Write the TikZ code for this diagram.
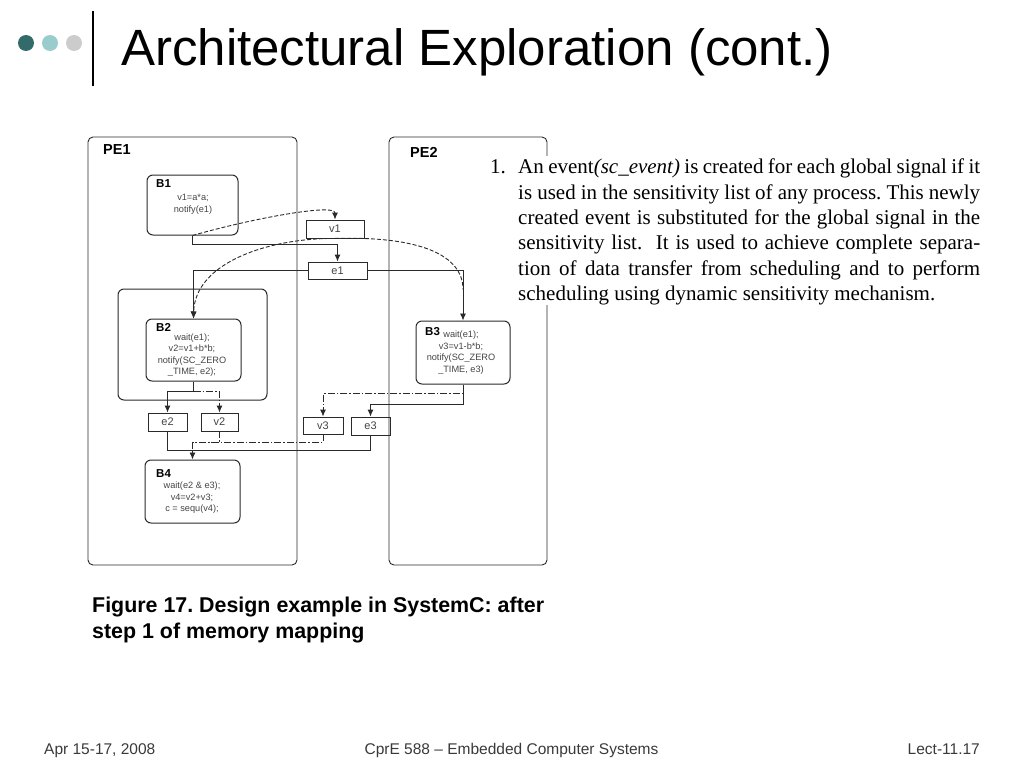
\documentclass[tikz,border=0pt]{standalone}
\usepackage{fontspec}
\setmainfont{Liberation Sans}
\newfontfamily\paperfont{Liberation Serif}
\usetikzlibrary{positioning, arrows.meta, calc}
\definecolor{dotdark}{HTML}{336B6B}
\definecolor{dotlight}{HTML}{99CCCC}
\definecolor{dotgray}{HTML}{CCCCCC}
\definecolor{ink}{HTML}{2A2A2A}
\definecolor{codegray}{HTML}{444444}
\definecolor{footgray}{HTML}{3A3A3A}
\tikzset{
  pe/.style    ={draw=ink, rounded corners=5pt, line width=0.9pt},
  blk/.style   ={draw=ink, rounded corners=6pt, line width=1pt},
  sigbox/.style={draw=ink, line width=0.9pt, inner sep=0pt, text=codegray,
                 font=\fontsize{11}{13}\selectfont},
  pename/.style={anchor=west, inner sep=0pt, font=\bfseries\fontsize{14.5}{16}\selectfont},
  bname/.style ={anchor=west, inner sep=0pt, font=\bfseries\fontsize{11.5}{13}\selectfont},
  code/.style  ={align=center, inner sep=0pt, text=codegray,
                 font=\fontsize{9.2}{11.5}\selectfont},
  dot/.style   ={circle, inner sep=0pt, minimum size=16pt},
  wire/.style  ={draw=ink, line width=0.9pt},
  sig/.style   ={wire, -{Latex[length=7pt,width=6pt]}},
  dwire/.style ={wire, dash pattern=on 7pt off 2pt on 1.5pt off 2pt},
  dsig/.style  ={dwire, -{Latex[length=7pt,width=6pt]}},
  curvy/.style ={wire, dash pattern=on 4pt off 2pt},
  paper/.style ={inner sep=0pt, font=\paperfont\fontsize{21}{25.3}\selectfont},
}

\begin{document}
\begin{tikzpicture}[x=1pt, y=-1pt]
  \useasboundingbox (0,0) rectangle (1024,768);

  % slide header
  \node[dot, fill=dotdark]  (d1) at (26,43) {};
  \node[dot, fill=dotlight] (d2) at (50,43) {};
  \node[dot, fill=dotgray]  (d3) at (74,43) {};
  \draw[line width=2.5pt] (93,11) -- (93,86);
  \node[anchor=base west, inner sep=0pt, font=\fontsize{51}{57}\selectfont]
    (title) at (121,66) {Architectural Exploration (cont.)};

  % processing elements
  \node[pe, minimum width=209pt, minimum height=428pt] (pe1) at (192.5,351) {};
  \node[pe, minimum width=158pt, minimum height=428pt] (pe2) at (468,351) {};
  \node[pename] (pe1n) at (103,150) {PE1};
  \node[pename] (pe2n) at (410,152) {PE2};

  % blocks
  \node[blk, minimum width=91pt, minimum height=60pt] (b1) at (192.5,205) {};
  \node[bname] (b1n) at (156,184) {B1};
  \node[code]  (b1c) at (193,204.5) {v1=a*a;\\notify(e1)};

  \node[blk, minimum width=149pt, minimum height=111pt] (b2o) at (192.5,344.5) {};
  \node[blk, minimum width=95pt, minimum height=62pt] (b2) at (193.5,350) {};
  \node[bname] (b2n) at (156,327) {B2};
  \node[code]  (b2c) at (192,355) {wait(e1);\\v2=v1+b*b;\\notify(SC\_ZERO\\\_TIME, e2);};

  \node[blk, minimum width=94pt, minimum height=63pt] (b3) at (463,352.5) {};
  \node[bname] (b3n) at (425,332) {B3};
  \node[code]  (b3c) at (461,352.5) {wait(e1);\\v3=v1-b*b;\\notify(SC\_ZERO\\\_TIME, e3)};

  \node[blk, minimum width=95pt, minimum height=63pt] (b4) at (192.5,491.5) {};
  \node[bname] (b4n) at (156,474) {B4};
  \node[code]  (b4c) at (192,498) {wait(e2 \& e3);\\v4=v2+v3;\\c = sequ(v4);};

  % signals and events
  \node[sigbox, minimum width=58pt, minimum height=18pt] (v1) at (335,229) {v1};
  \node[sigbox, minimum width=59pt, minimum height=17pt] (e1) at (337.5,270.5) {e1};
  \node[sigbox, minimum width=39pt, minimum height=18pt] (e2) at (167.5,422) {e2};
  \node[sigbox, minimum width=37pt, minimum height=18pt] (v2) at (219.5,422) {v2};
  \node[sigbox, minimum width=40pt, minimum height=17pt] (v3) at (323,425.5) {v3};
  \node[sigbox, minimum width=39pt, minimum height=18pt] (e3) at (370.5,426) {e3};

  % connections
  \draw[curvy, -{Latex[length=7pt,width=6pt]}] (b1.south) .. controls (250,219) and (335,203) .. (v1.north);
  \draw[sig] (b1.south) -- ++(0,-9pt) -| (e1.north);
  \draw[sig] (e1.west) -| (b2.north);
  \draw[sig] (e1.east) -| (b3.north);
  \coordinate (b3in) at ([yshift=31pt]b3.north);
  \draw[curvy, -{Latex[length=7pt,width=6pt]}] (v1.south) .. controls (270,238) and (195,262) .. (b2.north);
  \draw[curvy] (v1.south) .. controls (420,236) and (463,255) .. (b3in);

  \draw[sig] (b2.south) -- ++(0,-10pt) coordinate (b2fork) -| (e2.north);
  \draw[dsig] (b2fork) -| (v2.north);
  \draw[dsig] (b3.south) -- ++(0,-9pt) -| (v3.north);
  \draw[sig] (b3.south) -- ++(0,-20pt) -| (e3.north);

  \coordinate (jn) at ([yshift=9pt]b4.north);
  \coordinate (jd) at ([yshift=17pt]b4.north);
  \draw[dwire] (v2.south) |- (jd) -- (jn);
  \draw[dwire] (v3.south) |- (jd);
  \draw[wire] (e2.south) |- (jn);
  \draw[sig] (e3.south) |- (jn) -- (b4.north);

  % paper text
  \node[paper, anchor=north west, fill=white, text width=462pt, align=justify] (para) at (518,156)
    {\strut An event\textit{(sc\_event)} is created for each global signal if it\linebreak
     is used in the sensitivity list of any process.\ This newly\linebreak
     created event is substituted for the global signal in the\linebreak
     sensitivity list.\ \ It is used to achieve complete separa-\linebreak
     tion of data transfer from scheduling and to perform\linebreak
     scheduling using dynamic sensitivity mechanism.};
  \node[paper, anchor=north west] (num) at (490,156) {\strut 1.};

  \node[anchor=north west, inner sep=0pt, align=left,
        font=\frenchspacing\bfseries\fontsize{21.4}{26}\selectfont]
    (cap) at (92,597) {Figure 17. Design example in SystemC: after\\step 1 of memory mapping};

  % footer
  \node[anchor=base west, inner sep=0pt, text=footgray, font=\fontsize{15.5}{18}\selectfont]
    (date) at (44,754) {Apr 15-17, 2008};
  \node[anchor=base, inner sep=0pt, text=footgray, font=\fontsize{15.5}{18}\selectfont]
    (course) at (511.5,754) {CprE 588 -- Embedded Computer Systems};
  \node[anchor=base east, inner sep=0pt, text=footgray, font=\fontsize{15.5}{18}\selectfont]
    (lect) at (980,754) {Lect-11.17};
\end{tikzpicture}
\end{document}
